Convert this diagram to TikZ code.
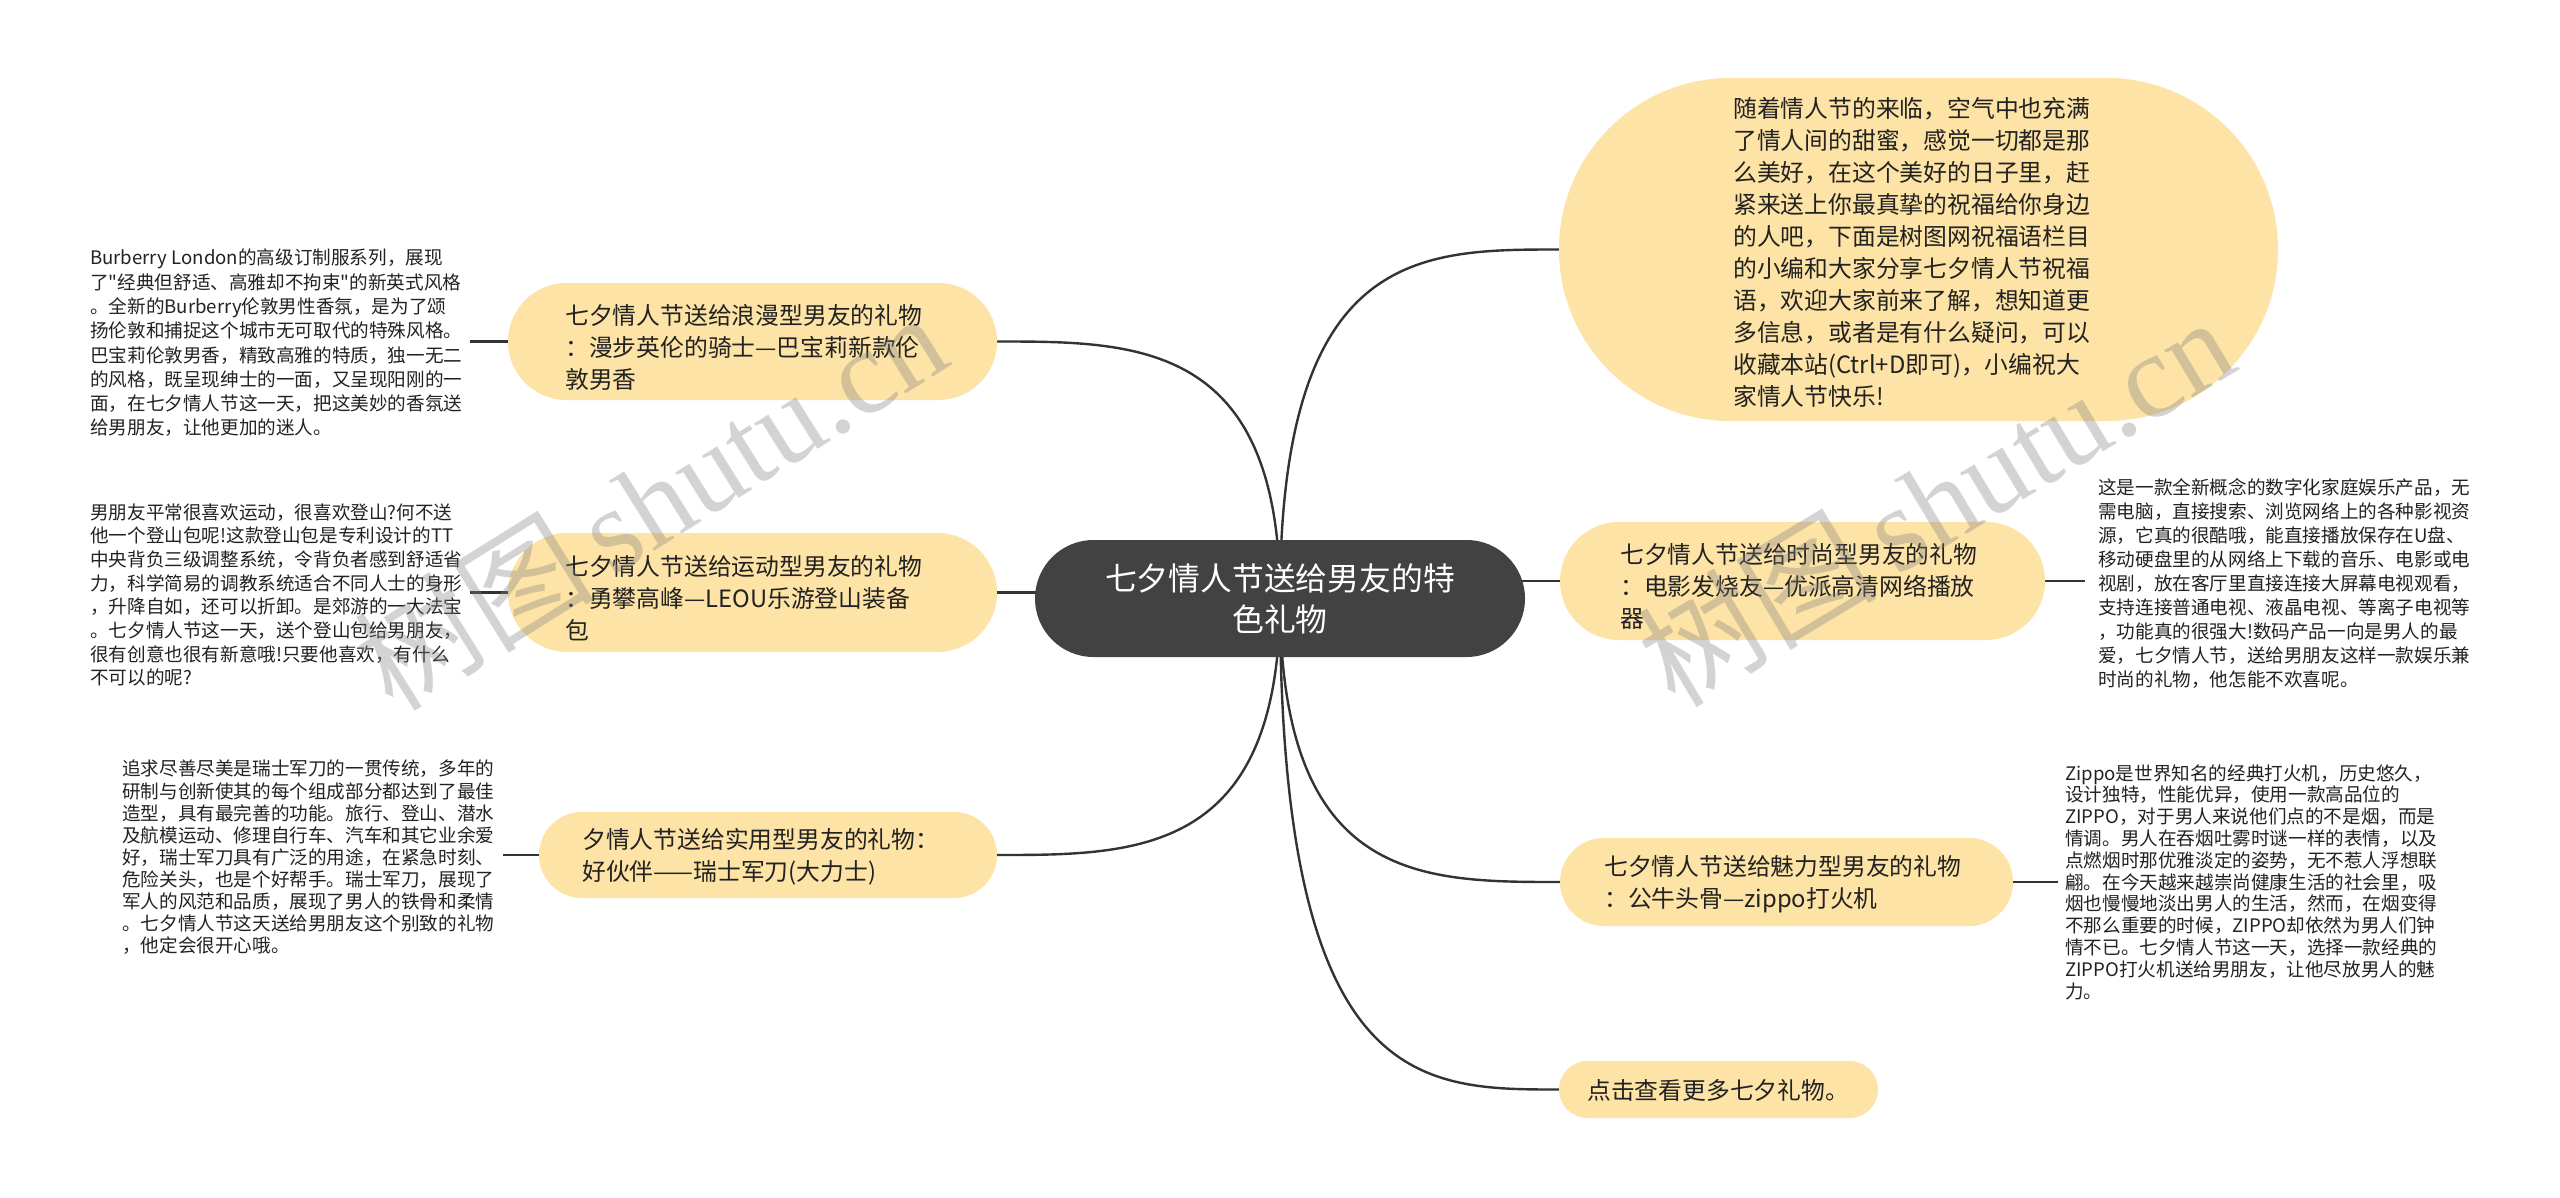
\documentclass[tikz,border=0pt]{standalone}
\usepackage{fontspec}
\setmainfont{Noto Sans CJK SC}[Ligatures=TeXOff]
\newfontfamily\wmlatin{Liberation Serif}
\usetikzlibrary{shapes.misc}
\definecolor{nodeY}{RGB}{253,227,165}
\definecolor{centerC}{RGB}{66,66,66}
\definecolor{lineC}{RGB}{51,51,51}
\definecolor{txt}{RGB}{34,34,34}
\pgfdeclarelayer{bg}
\pgfdeclarelayer{lines}
\pgfsetlayers{bg,lines,main}
\begin{document}
\begin{tikzpicture}[x=1pt,y=-1pt,
  ybox/.style={rounded rectangle, fill=nodeY, draw=none, inner sep=0pt},
  cbox/.style={rounded rectangle, fill=centerC, draw=none, inner sep=0pt, text=white, align=center, font=\fontsize{31.8}{41}\selectfont},
  ytext/.style={anchor=west, align=left, inner sep=0pt, text=txt, font=\fontsize{23.8}{32}\selectfont},
  leaf/.style={anchor=west, align=left, inner sep=0pt, text=txt},
  link/.style={draw=lineC, line width=2.4pt},
  wm/.style={text=black!50, text opacity=0.34, inner sep=0pt, font=\fontsize{120}{120}\selectfont}]

\useasboundingbox (0,0) rectangle (2560,1197);
\begin{pgfonlayer}{bg}
\fill[white] (0,0) rectangle (2560,1197);
\end{pgfonlayer}

% center
\node[cbox, minimum width=490pt, minimum height=117pt] (c) at (1280,598.5) {七夕情人节送给男友的特\\色礼物};

% left boxes
\node[ybox, minimum width=489pt, minimum height=117pt] (b1) at (752.5,341.5) {};
\node[ytext] (t1) at (565,347) {七夕情人节送给浪漫型男友的礼物\\：漫步英伦的骑士—巴宝莉新款伦\\敦男香};

\node[ybox, minimum width=489pt, minimum height=119pt] (b2) at (752.5,592.5) {};
\node[ytext] (t2) at (565,598) {七夕情人节送给运动型男友的礼物\\：勇攀高峰—LEOU乐游登山装备\\包};

\node[ybox, minimum width=458pt, minimum height=86pt] (b3) at (768,855) {};
\node[ytext] (t3) at (582,857) {夕情人节送给实用型男友的礼物：\\好伙伴——瑞士军刀(大力士)};

% right boxes
\node[ybox, minimum width=719pt, minimum height=343pt] (b0) at (1918.5,249.5) {};
\node[ytext] (t0) at (1733,252.5) {随着情人节的来临，空气中也充满\\了情人间的甜蜜，感觉一切都是那\\么美好，在这个美好的日子里，赶\\紧来送上你最真挚的祝福给你身边\\的人吧，下面是树图网祝福语栏目\\的小编和大家分享七夕情人节祝福\\语，欢迎大家前来了解，想知道更\\多信息，或者是有什么疑问，可以\\收藏本站(Ctrl+D即可)，小编祝大\\家情人节快乐!};

\node[ybox, minimum width=485pt, minimum height=118pt] (b4) at (1802.5,581) {};
\node[ytext] (t4) at (1620,586) {七夕情人节送给时尚型男友的礼物\\：电影发烧友—优派高清网络播放\\器};

\node[ybox, minimum width=453pt, minimum height=88pt] (b5) at (1786.5,882) {};
\node[ytext] (t5) at (1604,884) {七夕情人节送给魅力型男友的礼物\\：公牛头骨—zippo打火机};

\node[ybox, minimum width=319pt, minimum height=57pt] (b6) at (1718.5,1089.5) {};
\node[ytext] (t6) at (1587,1090) {点击查看更多七夕礼物。};

% leaf texts
\node[leaf, font=\fontsize{18.6}{24.3}\selectfont] (L1) at (90,343) {Burberry London的高级订制服系列，展现\\了"经典但舒适、高雅却不拘束"的新英式风格\\。全新的Burberry伦敦男性香氛，是为了颂\\扬伦敦和捕捉这个城市无可取代的特殊风格。\\巴宝莉伦敦男香，精致高雅的特质，独一无二\\的风格，既呈现绅士的一面，又呈现阳刚的一\\面，在七夕情人节这一天，把这美妙的香氛送\\给男朋友，让他更加的迷人。};

\node[leaf, font=\fontsize{18.6}{23.7}\selectfont] (L2) at (90,595) {男朋友平常很喜欢运动，很喜欢登山?何不送\\他一个登山包呢!这款登山包是专利设计的TT\\中央背负三级调整系统，令背负者感到舒适省\\力，科学简易的调教系统适合不同人士的身形\\，升降自如，还可以折卸。是郊游的一大法宝\\。七夕情人节这一天，送个登山包给男朋友，\\很有创意也很有新意哦!只要他喜欢，有什么\\不可以的呢?};

\node[leaf, font=\fontsize{18.6}{22.1}\selectfont] (L3) at (122,857.5) {追求尽善尽美是瑞士军刀的一贯传统，多年的\\研制与创新使其的每个组成部分都达到了最佳\\造型，具有最完善的功能。旅行、登山、潜水\\及航模运动、修理自行车、汽车和其它业余爱\\好，瑞士军刀具有广泛的用途，在紧急时刻、\\危险关头，也是个好帮手。瑞士军刀，展现了\\军人的风范和品质，展现了男人的铁骨和柔情\\。七夕情人节这天送给男朋友这个别致的礼物\\，他定会很开心哦。};

\node[leaf, font=\fontsize{18.6}{24.1}\selectfont] (L4) at (2098,583.5) {这是一款全新概念的数字化家庭娱乐产品，无\\需电脑，直接搜索、浏览网络上的各种影视资\\源，它真的很酷哦，能直接播放保存在U盘、\\移动硬盘里的从网络上下载的音乐、电影或电\\视剧，放在客厅里直接连接大屏幕电视观看，\\支持连接普通电视、液晶电视、等离子电视等\\，功能真的很强大!数码产品一向是男人的最\\爱，七夕情人节，送给男朋友这样一款娱乐兼\\时尚的礼物，他怎能不欢喜呢。};

\node[leaf, font=\fontsize{18.6}{21.8}\selectfont] (L5) at (2065,882) {Zippo是世界知名的经典打火机，历史悠久，\\设计独特，性能优异，使用一款高品位的\\ZIPPO，对于男人来说他们点的不是烟，而是\\情调。男人在吞烟吐雾时谜一样的表情，以及\\点燃烟时那优雅淡定的姿势，无不惹人浮想联\\翩。在今天越来越崇尚健康生活的社会里，吸\\烟也慢慢地淡出男人的生活，然而，在烟变得\\不那么重要的时候，ZIPPO却依然为男人们钟\\情不已。七夕情人节这一天，选择一款经典的\\ZIPPO打火机送给男朋友，让他尽放男人的魅\\力。};

\coordinate (e1) at (470,341.5);
\coordinate (e2) at (470,592.5);
\coordinate (e3) at (503,855);
\coordinate (e4) at (2085,581);
\coordinate (e5) at (2058,882);

\begin{pgfonlayer}{lines}
\draw[link] (c.center) .. controls (c.center |- b1.east) and ([xshift=140pt]b1.east) .. (b1.east);
\draw[link] (c.center) .. controls (c.center |- b3.east) and ([xshift=140pt]b3.east) .. (b3.east);
\draw[link] (c.center) .. controls (c.center |- b0.west) and ([xshift=-140pt]b0.west) .. (b0.west);
\draw[link] (c.center) .. controls (c.center |- b5.west) and ([xshift=-140pt]b5.west) .. (b5.west);
\draw[link] (c.center) .. controls (c.center |- b6.west) and ([xshift=-140pt]b6.west) .. (b6.west);
\draw[link] (c.center |- b2.east) -- (b2.east);
\draw[link] (c.center |- b4.west) -- (b4.west);
\draw[link] (b1.west) -- (e1);
\draw[link] (b2.west) -- (e2);
\draw[link] (b3.west) -- (e3);
\draw[link] (b4.east) -- (e4);
\draw[link] (b5.east) -- (e5);
\end{pgfonlayer}

% watermarks
\node[wm, rotate=32] (w1) at (650,500) {树图\hspace{0.15em}{\wmlatin shutu.cn}};
\node[wm, rotate=31] (w2) at (1935,500) {树图\hspace{0.15em}{\wmlatin shutu.cn}};
\end{tikzpicture}
\end{document}
